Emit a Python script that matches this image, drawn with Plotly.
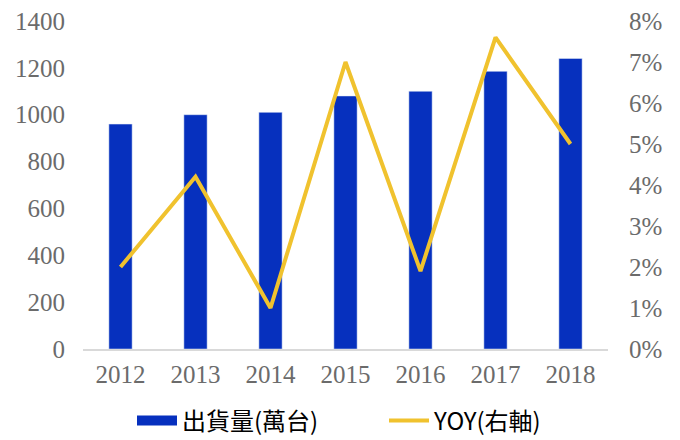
import plotly.graph_objects as go

# 出貨量 與 年增率
years = ['2012', '2013', '2014', '2015', '2016', '2017', '2018']
shipments = [960, 1000, 1010, 1080, 1100, 1185, 1240]
yoy = [0.020, 0.042, 0.010, 0.070, 0.019, 0.076, 0.050]

BLUE = '#0630BE'
GOLD = '#F0C22E'
tick_font = dict(family='Liberation Serif', size=25, color='#6b6b6b')
legend_font = dict(family='Noto Sans CJK TC', size=24, color='black')

# 頁面 body 有 8px 邊距，圖的尺寸扣掉
W, H = 672, 432

fig = go.Figure()

fig.add_trace(go.Bar(
    x=years, y=shipments, name='出貨量(萬台)',
    marker_color=BLUE, width=0.31, showlegend=False
))
fig.add_trace(go.Scatter(
    x=years, y=yoy, name='YOY(右軸)', yaxis='y2',
    mode='lines', line=dict(color=GOLD, width=4), showlegend=False
))

# 圖例用（長條圖圖例畫成寬色塊）
fig.add_trace(go.Scatter(
    x=[None], y=[None], name='出貨量(萬台)', mode='lines',
    line=dict(color=BLUE, width=10), legend='legend'
))
fig.add_trace(go.Scatter(
    x=[None], y=[None], name='YOY(右軸)', mode='lines',
    line=dict(color=GOLD, width=4), legend='legend2'
))

fig.update_layout(
    width=W, height=H,
    margin=dict(l=75, r=72, t=13, b=91, autoexpand=False),
    plot_bgcolor='white', paper_bgcolor='white',
    xaxis=dict(
        type='category', tickfont=tick_font, showgrid=False,
        showline=True, linecolor='#d9d9d9', linewidth=1.5,
        ticks='', ticklabelstandoff=2, automargin=False
    ),
    yaxis=dict(
        range=[0, 1400], dtick=200, tickfont=tick_font,
        showgrid=False, zeroline=False, ticklabelstandoff=17,
        automargin=False, ticklabeloverflow='allow'
    ),
    yaxis2=dict(
        range=[0, 0.08], dtick=0.01, tickformat='.0%', tickfont=tick_font,
        overlaying='y', side='right', showgrid=False, zeroline=False,
        ticklabelstandoff=20, automargin=False, ticklabeloverflow='allow'
    ),
    legend=dict(
        orientation='h', xref='container', yref='container',
        x=124 / W, xanchor='left', y=19 / H, yanchor='middle',
        itemwidth=40, font=legend_font
    ),
    legend2=dict(
        orientation='h', xref='container', yref='container',
        x=376 / W, xanchor='left', y=19 / H, yanchor='middle',
        itemwidth=40, font=legend_font
    ),
)

fig.write_html("out.html")
